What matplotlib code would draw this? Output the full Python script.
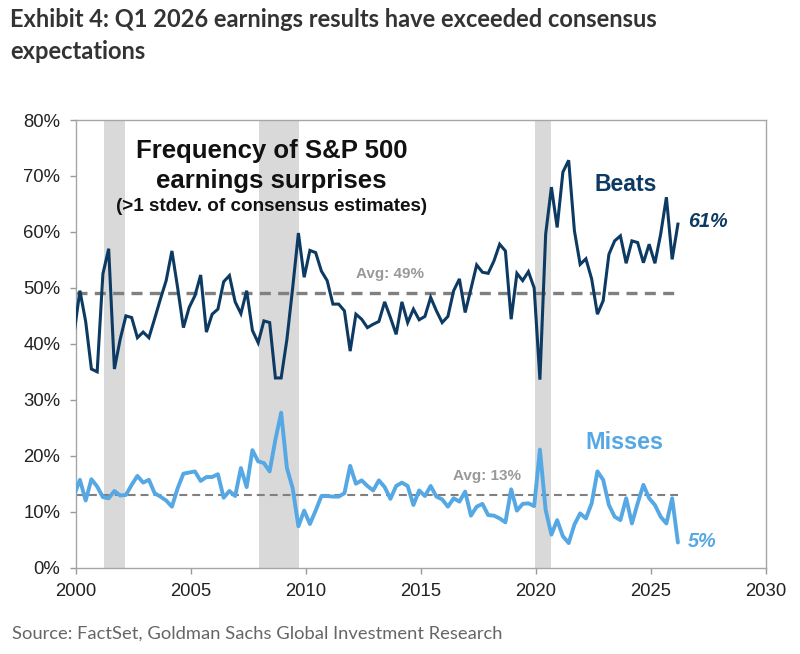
import matplotlib
matplotlib.use('Agg')
import matplotlib.pyplot as plt
import numpy as np

# Datos trimestrales (1999 Q4 .. 2026 Q1), porcentaje
beats = [42,
         49.5, 44, 35.5, 35,
         52.5, 57, 35.5, 40.8,
         45, 44.7, 41.1, 42.1,
         41.1, 44.5, 48, 51.3,
         56.6, 50, 42.9, 46.5,
         48.6, 52.3, 42.1, 45.3,
         46.2, 51.1, 52.2, 47.5,
         45.4, 49.5, 42.4, 40.2,
         44.1, 43.8, 33.9, 33.9,
         40.8, 50, 59.8, 51.9,
         56.7, 56.3, 53, 51.3,
         47.1, 47.1, 45.9, 38.7,
         45.3, 44.4, 42.9, 43.5,
         44, 47.5, 44.7, 41.7,
         47.5, 43.8, 46.2, 44.3,
         44.9, 48.3, 45.9, 43.8,
         44.9, 49.5, 51.6, 45.6,
         49.8, 54.1, 52.8, 52.6,
         54.8, 57.8, 56.6, 44.4,
         52.6, 51.3, 52.9, 50,
         33.6, 59.6, 68, 60.8,
         70.7, 72.8, 60.2, 54.2,
         55.2, 51.6, 45.3, 47.7,
         56, 58.4, 59.3, 54.4,
         58.4, 58.1, 54.5, 57.8,
         54.4, 59.6, 66.2, 55.1,
         61.4]
misses = [13,
          15.7, 12, 15.8, 14.5,
          12.6, 12.4, 13.7, 12.9,
          13, 14.8, 16.4, 15.2,
          15.7, 13.3, 12.7, 12,
          10.9, 14.2, 16.8, 17.0,
          17.2, 15.5, 16.2, 16.2,
          16.7, 12.5, 13.7, 12.8,
          17.8, 14.4, 21, 19,
          18.7, 17.2, 22.9, 27.7,
          17.8, 14.2, 7.4, 10.2,
          7.8, 10.2, 12.8, 12.8,
          12.7, 12.7, 13.3, 18.2,
          15, 15.6, 14.6, 13.8,
          15.6, 14.4, 12.3, 14.6,
          15.2, 14.6, 11.2, 13.8,
          12.8, 14.6, 12.7, 12.2,
          10.9, 12.4, 11.8, 13.6,
          9.3, 10.9, 11.4, 9.4,
          9.3, 8.8, 8.1, 14,
          10.2, 11.4, 11.5, 11,
          21.1, 10.3, 5.9, 8.5,
          5.6, 4.4, 7.7, 9.7,
          8.8, 11.5, 17.2, 15.7,
          11.2, 9.1, 8.5, 12.4,
          7.9, 11.5, 14.8, 12.4,
          11.2, 9.1, 7.9, 12.4,
          4.5]
inicio = 1999.92  # primer trimestre (se recorta en 2000)
fechas = inicio + 0.25 * np.arange(len(beats))
avg_beats = 49
avg_misses = 13
recesiones = [(2001.2, 2002.15), (2007.94, 2009.68), (2019.96, 2020.64)]

navy = '#0d3a63'
celeste = '#55a8e4'
gris = '#808080'

plt.rcParams['font.family'] = ['Liberation Sans', 'DejaVu Sans']
fig = plt.figure(figsize=(8, 6.54), dpi=100)
ax = fig.add_axes([0.095, 0.132, 0.8625, 0.6845])

for a, b in recesiones:
    ax.axvspan(a, b, color='#d9d9d9', lw=0, zorder=0)

ax.plot([2000, fechas[-1]], [avg_beats, avg_beats], ls=(0, (3.3, 2.2)), color=gris, lw=2.4, zorder=1)
ax.plot([2000, fechas[-1]], [avg_misses, avg_misses], ls=(0, (3.8, 2.4)), color=gris, lw=1.5, zorder=1)
ax.plot(fechas, beats, color=navy, lw=2.2, solid_joinstyle='miter', zorder=3)
ax.plot(fechas, misses, color=celeste, lw=2.8, solid_joinstyle='round', solid_capstyle='round', zorder=3)

ax.set_xlim(2000, 2030)
ax.set_ylim(0, 80)
ax.set_xticks(range(2000, 2031, 5))
ax.set_yticks(range(0, 81, 10))
ax.set_yticklabels([f'{v}%' for v in range(0, 81, 10)])
ax.tick_params(labelsize=13.3, labelcolor='#222222', length=4.3, width=1, direction='out', color='#999999')
ax.tick_params(axis='y', pad=7)
ax.tick_params(axis='x', pad=7)
for s in ax.spines.values():
    s.set_color('#a6a6a6')
    s.set_linewidth(1)

# Textos dentro del grafico
ax.text(2008.5, 74.5, 'Frequency of S&P 500', ha='center', va='center', fontsize=18.5, fontweight='bold', color='#111111')
ax.text(2008.5, 69.1, 'earnings surprises', ha='center', va='center', fontsize=18.5, fontweight='bold', color='#111111')
ax.text(2008.5, 64.6, '(>1 stdev. of consensus estimates)', ha='center', va='center', fontsize=13.6, fontweight='bold', color='#111111')
ax.text(2022.56, 68.5, 'Beats', ha='left', va='center', fontsize=16.6, fontweight='bold', color=navy)
ax.text(2026.6, 61.8, '61%', ha='left', va='center', fontsize=14.3, fontweight='bold', style='italic', color=navy)
ax.text(2022.13, 22.3, 'Misses', ha='left', va='center', fontsize=16.8, fontweight='bold', color=celeste)
ax.text(2026.6, 4.7, '5%', ha='left', va='center', fontsize=14.3, fontweight='bold', style='italic', color=celeste)
ax.text(2013.67, 52.4, 'Avg: 49%', ha='center', va='center', fontsize=11, fontweight='bold', color='#999999')
ax.text(2017.85, 16.4, 'Avg: 13%', ha='center', va='center', fontsize=11, fontweight='bold', color='#999999')

# Titulo y fuente
fig.text(0.0125, 0.9587, 'Exhibit 4: Q1 2026 earnings results have exceeded consensus',
         ha='left', va='baseline', fontsize=17, fontweight='bold', color='#333333', family=['Lato', 'DejaVu Sans'])
fig.text(0.0125, 0.910, 'expectations',
         ha='left', va='baseline', fontsize=17, fontweight='bold', color='#333333', family=['Lato', 'DejaVu Sans'])
fig.text(0.015, 0.0229, 'Source: FactSet, Goldman Sachs Global Investment Research', ha='left', va='baseline',
         fontsize=13.2, color='#666666', family=['Lato', 'DejaVu Sans'])

plt.savefig('out.png', dpi=100)
